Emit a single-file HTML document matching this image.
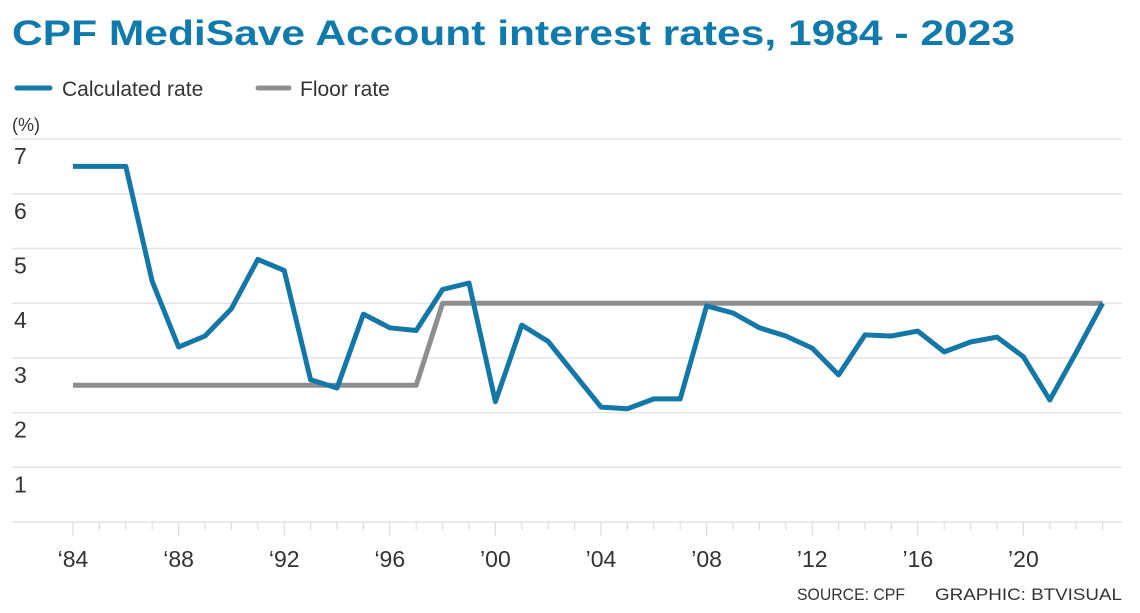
<!DOCTYPE html>
<html><head><meta charset="utf-8"><style>
html,body{margin:0;padding:0;background:#fff;}
svg{display:block;font-family:"Liberation Sans",sans-serif;}
</style></head><body>
<svg id="chart" width="1140" height="613" viewBox="0 0 1140 613" xmlns="http://www.w3.org/2000/svg">
<text x="12" y="45" font-size="35" font-weight="bold" fill="#0f7aab" textLength="1003" lengthAdjust="spacingAndGlyphs">CPF MediSave Account interest rates, 1984 - 2023</text>
<g>
<line x1="17" y1="88" x2="50" y2="88" stroke="#1679aa" stroke-width="5" stroke-linecap="round"/>
<text x="62" y="96" font-size="21" fill="#333">Calculated rate</text>
<line x1="258" y1="88" x2="289" y2="88" stroke="#8e8e8e" stroke-width="5" stroke-linecap="round"/>
<text x="300" y="96" font-size="21" fill="#333">Floor rate</text>
</g>
<text x="12" y="131" font-size="18" fill="#333">(%)</text>
<g id="grid"></g>
<g id="xaxis"></g>
<g id="series"></g>
<text x="797" y="600" font-size="17" fill="#333" textLength="108" lengthAdjust="spacingAndGlyphs">SOURCE: CPF</text>
<text x="1122" y="600" font-size="17" fill="#333" text-anchor="end" textLength="187" lengthAdjust="spacingAndGlyphs">GRAPHIC: BTVISUAL</text>
</svg>
<script>
const years = [1984,1985,1986,1987,1988,1989,1990,1991,1992,1993,1994,1995,1996,1997,1998,1999,2000,2001,2002,2003,2004,2005,2006,2007,2008,2009,2010,2011,2012,2013,2014,2015,2016,2017,2018,2019,2020,2021,2022,2023];
const calculatedRate = [6.5,6.5,6.5,4.4,3.2,3.4,3.9,4.8,4.6,2.6,2.45,3.8,3.55,3.5,4.25,4.37,2.2,3.6,3.3,2.7,2.1,2.07,2.25,2.25,3.95,3.82,3.55,3.4,3.18,2.69,3.42,3.4,3.49,3.11,3.29,3.38,3.02,2.23,3.1,4.0];
const floorRate = [2.5,2.5,2.5,2.5,2.5,2.5,2.5,2.5,2.5,2.5,2.5,2.5,2.5,2.5,4,4,4,4,4,4,4,4,4,4,4,4,4,4,4,4,4,4,4,4,4,4,4,4,4,4];
const yTicks = [0,1,2,3,4,5,6,7];
const yTickLabels = ["","1","2","3","4","5","6","7"];
const xTickYears = [1984,1988,1992,1996,2000,2004,2008,2012,2016,2020];
const xTickLabels = ["\u201884","\u201888","\u201892","\u201896","\u201900","\u201904","\u201908","\u201912","\u201916","\u201920"];

const NS="http://www.w3.org/2000/svg";
const X=y=>73+(y-1984)*26.4;
const Y=v=>522-v*54.7;
function mk(tag,attrs,parent){const e=document.createElementNS(NS,tag);for(const k in attrs)e.setAttribute(k,attrs[k]);parent.appendChild(e);return e;}
const grid=document.getElementById('grid');
yTicks.forEach((v,i)=>{
  const l=mk('line',{x1:12,x2:1122,y1:Y(v),y2:Y(v),stroke:'#e4e4e4','stroke-width':1.5},grid);
  
  
  if(yTickLabels[i]){
    const t=mk('text',{x:14,y:Y(v)+25,'font-size':23,fill:'#333'},grid);
    t.textContent=yTickLabels[i];
    
    
  }
});
const xa=document.getElementById('xaxis');
years.forEach(yr=>{
  const major=xTickYears.indexOf(yr)>=0;
  const t=mk('line',{x1:X(yr),x2:X(yr),y1:Y(0),y2:Y(0)+(major?14:8),stroke:'#ddd','stroke-width':1.2},xa);
  
  
});
xTickYears.forEach((yr,i)=>{
  const t=mk('text',{x:X(yr),y:567,'font-size':23,fill:'#333','text-anchor':'middle'},xa);
  t.textContent=xTickLabels[i];
  
  
});
const s=document.getElementById('series');
const pts=a=>a.map((v,i)=>X(years[i]).toFixed(1)+','+Y(v).toFixed(1)).join(' ');
const f=mk('polyline',{points:pts(floorRate),fill:'none',stroke:'#8e8e8e','stroke-width':5,'stroke-linejoin':'round'},s);


const c=mk('polyline',{points:pts(calculatedRate),fill:'none',stroke:'#1377a8','stroke-width':5,'stroke-linejoin':'round'},s);


</script>
</body></html>
